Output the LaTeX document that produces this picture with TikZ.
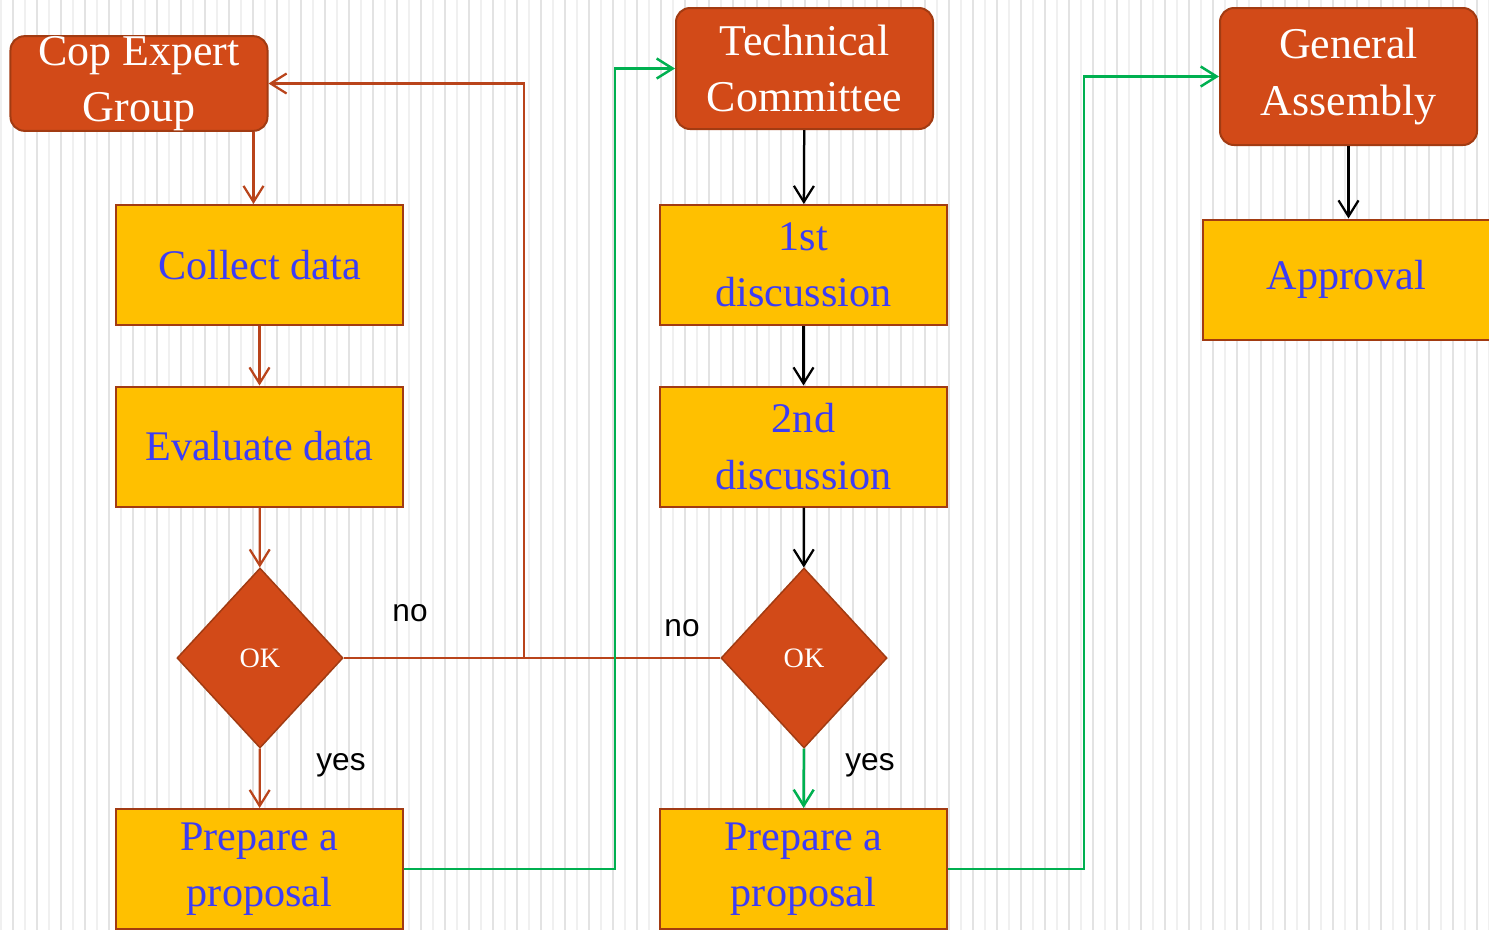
\documentclass[tikz,border=0pt]{standalone}
\usepackage{fontspec}
\setmainfont{Liberation Serif}
\newfontfamily\labelfont{Liberation Sans}
\usepackage{tikz}
\usetikzlibrary{arrows.meta}
\usetikzlibrary{shapes.geometric, calc}
\definecolor{rouge}{HTML}{D24A18}
\definecolor{bordeaux}{HTML}{A23B12}
\definecolor{brique}{HTML}{B9441B}
\definecolor{jaune}{HTML}{FFC000}
\definecolor{bleu}{HTML}{3C3CF5}
\definecolor{vert}{HTML}{00B050}

\begin{document}
\begin{tikzpicture}[x=0.2mm, y=-0.2mm,
    instance/.style={rectangle, rounded corners=2.8mm, draw=bordeaux, line width=0.4mm, fill=rouge, text=white, font=\fontsize{25}{32}\selectfont, align=center, minimum width=51.4mm, inner sep=0pt},
    etape/.style={rectangle, draw=bordeaux, line width=0.4mm, fill=jaune, text=bleu, font=\fontsize{24}{32}\selectfont, align=center, minimum width=57.4mm, minimum height=24mm, inner sep=0pt},
    test/.style={diamond, draw=bordeaux, line width=0.3mm, fill=rouge, text=white, font=\fontsize{16}{19}\selectfont, minimum width=33.2mm, minimum height=36mm, inner sep=0pt},
    reponse/.style={font=\labelfont\fontsize{18}{22}\selectfont},
    fleche/.style={-{Straight Barb[length=3.2mm,width=4mm]}},
    lien/.style={draw=brique, line width=0.45mm},
    lienvert/.style={draw=vert, line width=0.5mm},
    liennoir/.style={draw=black, line width=0.45mm}]
            \useasboundingbox (0,0) rectangle (1489,930);
            \clip (0,0) rectangle (1489,930);

            % Fond rayé
            \foreach \x in {1,25,...,1489} \draw[gray!12, line width=0.3mm] (\x,0) -- (\x,930);
            \foreach \x in {13,37,...,1489} \draw[gray!22, line width=0.3mm] (\x,0) -- (\x,930);

            % Les trois instances
            \node[instance, minimum height=18.2mm] (cop) at (139,83.5) {Cop Expert\\Group};
            \node[instance, minimum height=24.2mm] (tech) at (804.5,68.5) {Technical\\Committee};
            \node[instance, minimum height=27.4mm] (ga) at (1348.5,76.5) {General\\Assembly};

            % Colonne 1
            \node[etape] (collect) at (259.5,265) {Collect data};
            \node[etape] (evaluate) at (259.5,446.5) {Evaluate data};
            \node[test] (ok1) at (260,658) {OK};
            \node[etape] (prop1) at (259.5,869) {Prepare a\\proposal};

            % Colonne 2
            \node[etape] (first) at (803.5,265) {1st\\discussion};
            \node[etape] (second) at (803.5,446.5) {2nd\\discussion};
            \node[test] (ok2) at (804,658) {OK};
            \node[etape] (prop2) at (803.5,869) {Prepare a\\proposal};

            % Colonne 3
            \node[etape] (approval) at (1346.5,279.5) {Approval};

            % Réponses
            \node[reponse] (no1) at (410,613) {no};
            \node[reponse] (yes1) at (341,765) {yes};
            \node[reponse] (no2) at (682,628) {no};
            \node[reponse] (yes2) at (870,765) {yes};

            % Flèches colonne 1
            \coordinate (copout) at ([xshift=-3mm]cop.south east);
            \draw[lien, fleche] (copout) -- (copout |- collect.north);
            \draw[lien, fleche] (collect) -- (evaluate);
            \draw[lien, fleche] (evaluate) -- (ok1);
            \draw[lien, fleche] (ok1) -- (prop1);

            % Retour "no"
            \coordinate (retour) at (524,658);
            \draw[lien] (ok1.east) -- (ok2.west);
            \draw[lien, fleche] (retour) |- (cop.east);

            % Flèches colonne 2
            \draw[liennoir, fleche] (tech) -- (first);
            \draw[liennoir, fleche] (first) -- (second);
            \draw[liennoir, fleche] (second) -- (ok2);
            \draw[lienvert, fleche] (ok2) -- (prop2);

            % Propositions transmises
            \coordinate (montee1) at (615,0);
            \coordinate (montee2) at (1084,0);
            \draw[lienvert, fleche] (prop1.east) -- (prop1.east -| montee1) |- (tech.west);
            \draw[lienvert, fleche] (prop2.east) -- (prop2.east -| montee2) |- (ga.west);

            % Colonne 3
            \draw[liennoir, fleche] (ga) -- (ga |- approval.north);
        \end{tikzpicture}
\end{document}
